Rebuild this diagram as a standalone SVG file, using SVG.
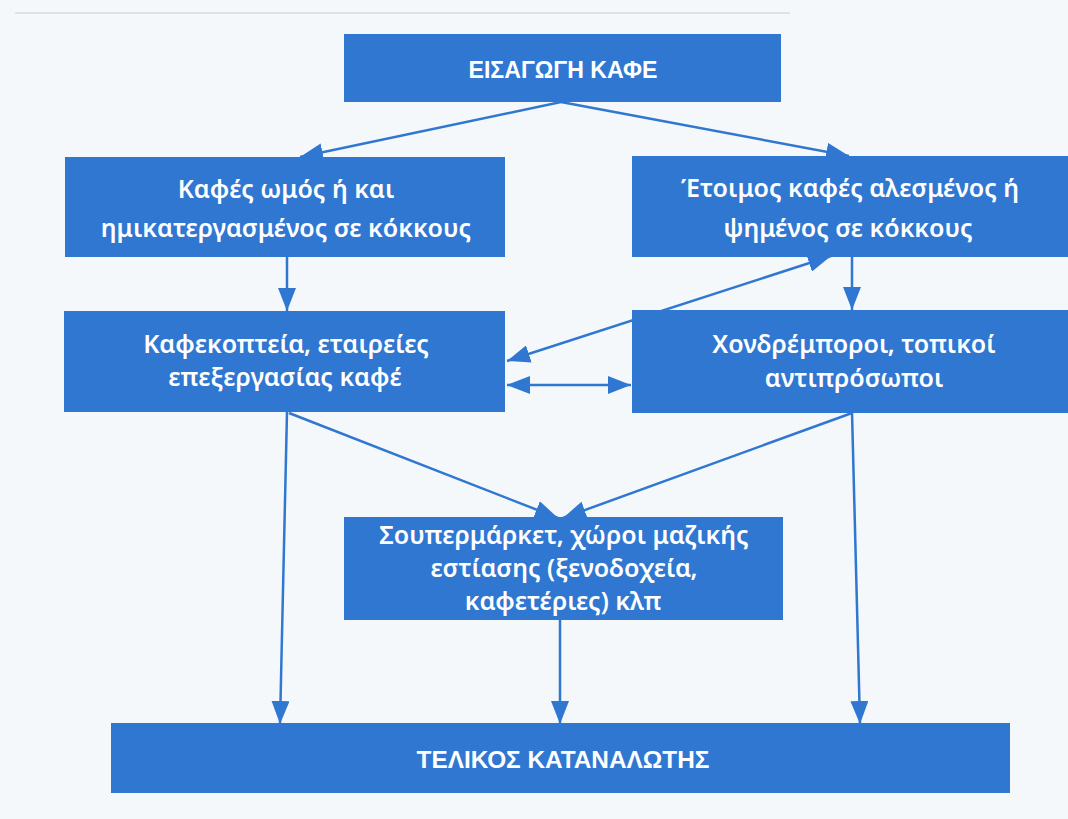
<svg xmlns="http://www.w3.org/2000/svg" width="1068" height="819" viewBox="0 0 1068 819">
  <style>
    .box { fill: #2f77d1; }
    .t { font-family: "Noto Sans", "Open Sans", sans-serif; font-size: 25px; font-weight: 600; fill: #ffffff; text-anchor: middle; }
    .cap { font-family: "Liberation Sans", Arial, sans-serif; font-size: 24px; font-weight: bold; fill: #ffffff; text-anchor: middle; }
    .c { stroke: #2f77d1; stroke-width: 2.5; fill: none; }
  </style>
  <defs>
    <marker id="ah" markerUnits="userSpaceOnUse" markerWidth="23" markerHeight="18" refX="23" refY="9" orient="auto-start-reverse" viewBox="0 0 23 18">
      <path d="M0,0 L23,9 L0,18 z" fill="#2f77d1"/>
    </marker>
  </defs>
  <rect x="0" y="0" width="1068" height="819" fill="#f4f8fb"/>
  <line x1="15" y1="13" x2="790" y2="13" stroke="#d8dde3" stroke-width="1.5"/>

  <g id="connectors">
    <line class="c" x1="561" y1="102" x2="300" y2="157" marker-end="url(#ah)"/>
    <line class="c" x1="561" y1="102" x2="849" y2="156" marker-end="url(#ah)"/>
    <line class="c" x1="287" y1="256" x2="287" y2="311" marker-end="url(#ah)"/>
    <line class="c" x1="852" y1="256" x2="852" y2="310" marker-end="url(#ah)"/>
    <line class="c" x1="507" y1="361" x2="831" y2="256" marker-start="url(#ah)" marker-end="url(#ah)"/>
    <line class="c" x1="507" y1="385" x2="631" y2="385" marker-start="url(#ah)" marker-end="url(#ah)"/>
    <line class="c" x1="287" y1="412" x2="280" y2="724" marker-end="url(#ah)"/>
    <line class="c" x1="852" y1="412" x2="860" y2="724" marker-end="url(#ah)"/>
    <line class="c" x1="289" y1="413" x2="558" y2="518" marker-end="url(#ah)"/>
    <line class="c" x1="852" y1="413" x2="563" y2="518" marker-end="url(#ah)"/>
    <line class="c" x1="560" y1="620" x2="560" y2="724" marker-end="url(#ah)"/>
  </g>

  <g id="n1">
    <rect class="box" x="344" y="34" width="437" height="68"/>
    <text class="cap" x="563" y="78" textLength="189" lengthAdjust="spacingAndGlyphs">ΕΙΣΑΓΩΓΗ ΚΑΦΕ</text>
  </g>
  <g id="n2">
    <rect class="box" x="65" y="157" width="440" height="100"/>
    <text class="t" x="286" y="198">Καφές ωμός ή και</text>
    <text class="t" x="286" y="237">ημικατεργασμένος σε κόκκους</text>
  </g>
  <g id="n3">
    <rect class="box" x="632" y="156" width="440" height="101"/>
    <text class="t" x="850" y="197">Έτοιμος καφές αλεσμένος ή</text>
    <text class="t" x="848" y="237">ψημένος σε κόκκους</text>
  </g>
  <g id="n4">
    <rect class="box" x="64" y="311" width="441" height="101"/>
    <text class="t" x="286" y="353">Καφεκοπτεία, εταιρείες</text>
    <text class="t" x="285" y="386">επεξεργασίας καφέ</text>
  </g>
  <g id="n5">
    <rect class="box" x="632" y="310" width="440" height="103"/>
    <text class="t" x="854" y="353">Χονδρέμποροι, τοπικοί</text>
    <text class="t" x="854" y="387">αντιπρόσωποι</text>
  </g>
  <g id="n6">
    <rect class="box" x="344" y="517" width="439" height="103"/>
    <text class="t" x="564" y="544">Σουπερμάρκετ, χώροι μαζικής</text>
    <text class="t" x="564" y="577">εστίασης (ξενοδοχεία,</text>
    <text class="t" x="563" y="610">καφετέριες) κλπ</text>
  </g>
  <g id="n7">
    <rect class="box" x="111" y="723" width="899" height="70"/>
    <text class="cap" x="563" y="768" textLength="293" lengthAdjust="spacingAndGlyphs">ΤΕΛΙΚΟΣ ΚΑΤΑΝΑΛΩΤΗΣ</text>
  </g>
</svg>
